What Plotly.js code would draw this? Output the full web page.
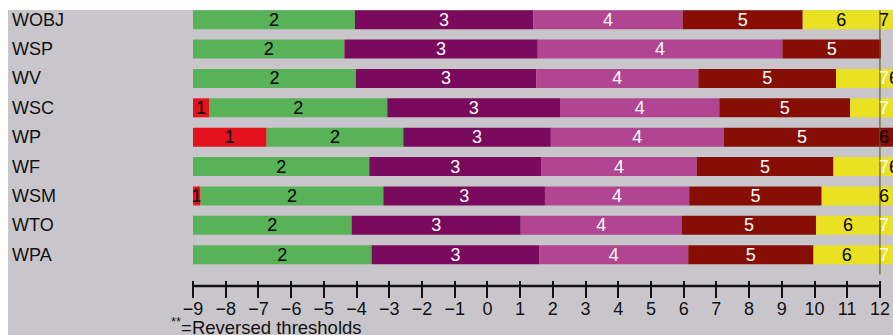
<!DOCTYPE html>
<html>
<head>
<meta charset="utf-8">
<script src="https://cdn.plot.ly/plotly-3.0.1.min.js"></script>
<style>
  html, body { margin: 0; padding: 0; background: #ffffff; width: 893px; height: 335px; overflow: hidden; }
  #chart { position: absolute; left: 8px; top: 10px; width: 885px; height: 325px; background: #c9c6cb; }
</style>
</head>
<body>
<div id="chart"></div>
<script>
// Row categories (top to bottom)
const rows = ['WOBJ', 'WSP', 'WV', 'WSC', 'WP', 'WF', 'WSM', 'WTO', 'WPA'];

// Axis start and tick labels
const axisStart = -9;
const tickValues = [-9, -8, -7, -6, -5, -4, -3, -2, -1, 0, 1, 2, 3, 4, 5, 6, 7, 8, 9, 10, 11, 12];
const tickLabels = ['−9', '−8', '−7', '−6', '−5', '−4', '−3', '−2', '−1', '0', '1', '2', '3', '4', '5', '6', '7', '8', '9', '10', '11', '12'];

// Segment end values per threshold level (null = segment absent)
const end1 = [null, null, null, -8.51, -6.75, null, -8.77, null, null];
const end2 = [-4.05, -4.37, -4.02, -3.06, -2.57, -3.61, -3.18, -4.15, -3.54];
const end3 = [1.40, 1.54, 1.49, 2.22, 1.94, 1.64, 1.76, 1.02, 1.59];
const end4 = [5.97, 9.02, 6.45, 7.09, 7.23, 6.40, 6.17, 5.94, 6.14];
const end5 = [9.64, 12.03, 10.66, 11.09, 12.0, 10.58, 10.22, 10.05, 9.97];
const end6 = [12, null, 12, 12, null, 12, 12, 12, 12];
const end7 = [12.4, null, 12.4, 12.4, 12.4, 12.4, 12.4, 12.4, 12.4];

// Segment labels
const text1 = ['1', '1', '1', '1', '1', '1', '1', '1', '1'];
const text2 = ['2', '2', '2', '2', '2', '2', '2', '2', '2'];
const text3 = ['3', '3', '3', '3', '3', '3', '3', '3', '3'];
const text4 = ['4', '4', '4', '4', '4', '4', '4', '4', '4'];
const text5 = ['5', '5', '5', '5', '5', '5', '5', '5', '5'];
const text6 = ['6', '', '', '', '', '', '', '6', '6'];
// Labels of the trailing (clipped) segment beyond 12
const tailText = [
  '7', '',
  '<span style="color:#ffffff">7</span>6',
  '<span style="color:#ffffff">7</span>',
  '6',
  '<span style="color:#ffffff">7</span>6',
  '6',
  '<span style="color:#ffffff">7</span>',
  '<span style="color:#ffffff">7</span>'
];

const levelColors = ['#e3121c', '#58b257', '#790a5d', '#b24591', '#860e05', '#e9e122'];
const levelTextColors = ['#000000', '#000000', '#ffffff', '#ffffff', '#ffffff', '#000000'];
const tailColors = ['#e9e122', '#e9e122', '#e9e122', '#e9e122', '#860e05', '#e9e122', '#e9e122', '#e9e122', '#e9e122'];

const ends = [end1, end2, end3, end4, end5, end6];
const texts = [text1, text2, text3, text4, text5, text6];

const FONT = 'Liberation Sans, Arial, Helvetica, sans-serif';
const traces = [];
const lastEnd = rows.map(() => axisStart);

ends.forEach((endArr, k) => {
  const base = [], width = [], ys = [], txt = [];
  endArr.forEach((e, i) => {
    if (e === null) return;
    base.push(lastEnd[i]);
    width.push(e - lastEnd[i]);
    ys.push(rows[i]);
    txt.push(texts[k][i] === '' ? null : texts[k][i]);
    lastEnd[i] = e;
  });
  traces.push({
    type: 'bar',
    orientation: 'h',
    y: ys,
    x: width,
    base: base,
    width: 0.647,
    text: txt,
    textposition: 'inside',
    insidetextanchor: 'middle',
    textangle: 0,
    constraintext: 'none',
    cliponaxis: false,
    textfont: { family: FONT, size: 18, color: levelTextColors[k] },
    marker: { color: levelColors[k], line: { width: 0 } },
    hoverinfo: 'skip',
    showlegend: false
  });
});

// Trailing segment beyond 12 (clipped by the chart edge)
const tailBase = [], tailWidth = [], tailY = [], tailCol = [];
const tailAnn = [];
end7.forEach((e, i) => {
  if (e === null) return;
  tailBase.push(lastEnd[i]);
  tailWidth.push(e - lastEnd[i]);
  tailY.push(rows[i]);
  tailCol.push(tailColors[i]);
  tailAnn.push({
    xref: 'x', yref: 'y', x: lastEnd[i], y: rows[i],
    xanchor: 'left', yanchor: 'middle', xshift: -3,
    text: tailText[i], showarrow: false,
    font: { family: 'Liberation Sans, Arial, Helvetica, sans-serif', size: 18, color: '#000000' }
  });
});
traces.push({
  type: 'bar', orientation: 'h',
  y: tailY, x: tailWidth, base: tailBase, width: 0.647,
  marker: { color: tailCol, line: { width: 0 } },
  hoverinfo: 'skip', showlegend: false
});

const plotH = 270;
const annotations = rows.map(r => ({
  xref: 'paper', yref: 'y', x: -0.262, y: r,
  xanchor: 'left', yanchor: 'middle',
  text: r, showarrow: false,
  font: { family: FONT, size: 18, color: '#111111' }
}));
annotations.push({
  xref: 'paper', yref: 'paper', x: -0.034, y: -0.17,
  xanchor: 'left', yanchor: 'middle',
  text: '<sup>**</sup>=Reversed thresholds', showarrow: false,
  font: { family: FONT, size: 18.5, color: '#111111' }
});
tailAnn.forEach(a => annotations.push(a));

const xMin = tickValues[0];
const xMax = tickValues[tickValues.length - 1];

const layout = {
  width: 885, height: 325,
  margin: { l: 185, r: 0, t: 0, b: 55 },
  paper_bgcolor: '#c9c6cb',
  plot_bgcolor: '#c9c6cb',
  barmode: 'overlay',
  xaxis: {
    range: [-9, 12.4],
    showgrid: false, zeroline: false, showline: false,
    tickmode: 'array', tickvals: tickValues, ticktext: tickLabels,
    ticks: 'outside', ticklen: 17, tickwidth: 2, tickcolor: '#111111',
    ticklabelstandoff: -5,
    tickfont: { family: FONT, size: 18, color: '#111111' },
    fixedrange: true
  },
  yaxis: {
    type: 'category', categoryarray: rows, categoryorder: 'array',
    range: [8.86, -0.33],
    showgrid: false, zeroline: false, showline: false,
    showticklabels: false, ticks: '',
    fixedrange: true
  },
  shapes: [
    { type: 'line', xref: 'x', yref: 'paper', x0: xMin, x1: xMax, y0: -6 / plotH, y1: -6 / plotH,
      line: { color: '#111111', width: 2.5 } },
    { type: 'line', xref: 'x', yref: 'paper', x0: xMax, x1: xMax, y0: 0.02, y1: 1,
      line: { color: 'rgba(95,88,20,0.75)', width: 1.5 } }
  ],
  annotations: annotations,
  showlegend: false
};

Plotly.newPlot('chart', traces, layout, { displayModeBar: false, staticPlot: true });
</script>
</body>
</html>
